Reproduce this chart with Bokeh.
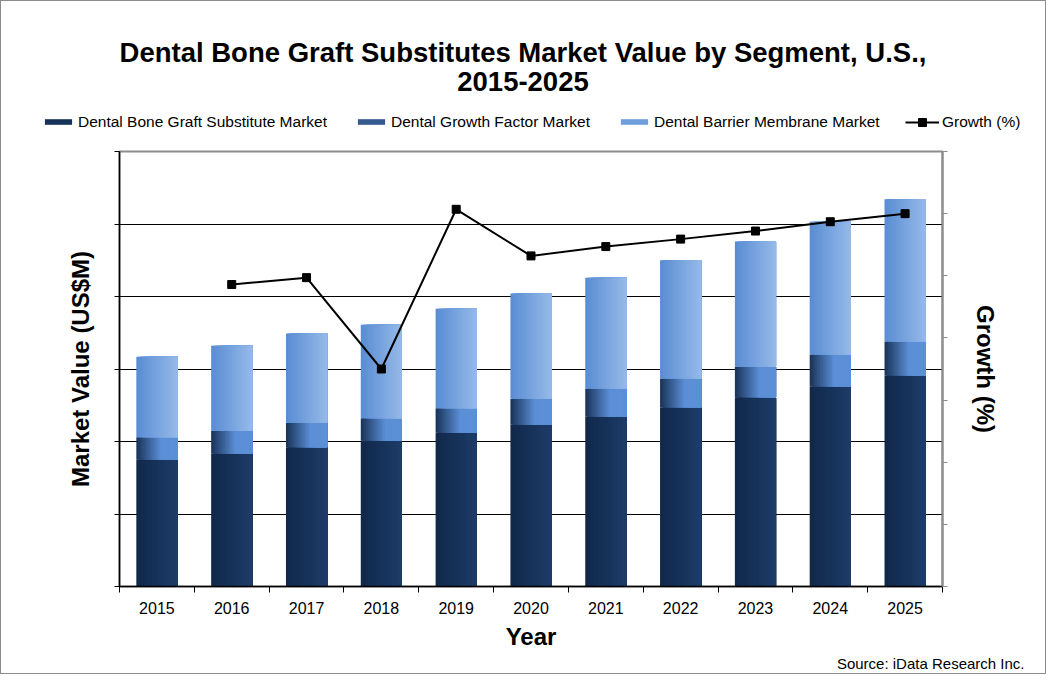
import numpy as np
from bokeh.plotting import figure
from bokeh.models import (Range1d, LinearAxis, FixedTicker, Legend, LegendItem, Title, Label,
                          CustomJSTickFormatter)
from bokeh.embed import file_html
from bokeh.resources import INLINE

# ---------------- data ----------------
years = ["2015", "2016", "2017", "2018", "2019", "2020", "2021", "2022", "2023", "2024", "2025"]
bone_graft = [1.75, 1.83, 1.92, 2.01, 2.12, 2.23, 2.34, 2.47, 2.61, 2.76, 2.91]
growth_factor = [0.31, 0.32, 0.34, 0.31, 0.34, 0.36, 0.39, 0.40, 0.42, 0.44, 0.47]
barrier_membrane = [1.11, 1.17, 1.23, 1.29, 1.37, 1.45, 1.53, 1.63, 1.73, 1.83, 1.96]
growth_years = ["2016", "2017", "2018", "2019", "2020", "2021", "2022", "2023", "2024", "2025"]
growth_pct = [4.86, 4.97, 3.50, 6.07, 5.32, 5.47, 5.59, 5.72, 5.87, 6.00]
left_ticks = [0, 1, 2, 3, 4, 5, 6]
right_ticks = [0, 1, 2, 3, 4, 5, 6, 7]

series_names = ["Dental Bone Graft Substitute Market", "Dental Growth Factor Market",
                "Dental Barrier Membrane Market", "Growth (%)"]
title_lines = ["Dental Bone Graft Substitutes Market Value by Segment, U.S.,", "2015-2025"]
source_text = "Source: iData Research Inc."

FONT = "Liberation Sans"
N_SLICES = 24
BAR_W = 0.55
W = 1046
TOP_H = 150
MAIN_H = 524
EDGE = "#8c8c8c"

seg_colors = [("#11284a", "#1d3c68", 1.0), ("#1b365c", "#5b8fd6", 0.6), ("#5a8dd4", "#95b9e8", 1.0)]
legend_swatch = ["#17325a", "#34598f", "#6e9edd"]


def hx(c):
    c = c.lstrip("#")
    return np.array([int(c[i:i + 2], 16) for i in (0, 2, 4)], dtype=float)


def mix(c1, c2, t):
    a, b = hx(c1), hx(c2)
    r = a + (b - a) * t
    return "#%02x%02x%02x" % tuple(int(round(v)) for v in r)


centers = np.arange(len(years)) + 0.5
bone = np.array(bone_graft)
gf_top = bone + np.array(growth_factor)
tot = gf_top + np.array(barrier_membrane)
stack = [(np.zeros(len(years)), bone), (bone, gf_top), (gf_top, tot)]
gx = [years.index(y) + 0.5 for y in growth_years]

# ---------------- header figure: title + legend ----------------
# (its y range lies below all the data, so the legend's renderers draw nothing here)
top = figure(width=W, height=TOP_H, x_range=Range1d(0, len(years)), y_range=Range1d(-2, -1),
             output_backend="svg", toolbar_location=None, title=None,
             x_axis_location=None, y_axis_location=None,
             min_border_left=0, min_border_right=0, min_border_top=0, min_border_bottom=0)
top.grid.visible = False
top.outline_line_color = None
top.background_fill_color = None
top.border_fill_color = None
top.styles = {"background-color": "white",
              "box-shadow": f"inset 1px 1px 0 0 {EDGE}, inset -1px 0 0 0 {EDGE}"}

for txt, yb in zip(title_lines, [TOP_H - 52.3, TOP_H - 81.3]):
    top.add_layout(Label(x=522.5, y=yb, x_units="screen", y_units="screen", text=txt,
                         text_align="center", text_baseline="alphabetic", text_font=FONT,
                         text_font_size="27.5px", text_font_style="bold", text_color="black"))

bar_items = []
for name, col, (bottoms, tops) in zip(series_names[:3], legend_swatch, stack):
    r = top.quad(left=centers - BAR_W / 2, right=centers + BAR_W / 2, bottom=bottoms, top=tops,
                 fill_color=col, line_color=None)
    bar_items.append(LegendItem(label=name, renderers=[r]))
lr = top.line(gx, growth_pct, line_color="black", line_width=2)
sr = top.scatter(gx, growth_pct, marker="square", size=8, fill_color="black", line_color="black")


def style_legend(lg):
    lg.border_line_color = None
    lg.background_fill_alpha = 0
    lg.padding = 0
    lg.margin = 0
    lg.spacing = 27
    lg.glyph_width = 34
    lg.label_standoff = 3
    lg.label_text_font = FONT
    lg.label_text_font_size = "15.5px"
    lg.label_text_color = "black"


leg_a = Legend(items=bar_items, orientation="horizontal", location=(41, 19.4))
style_legend(leg_a)
leg_a.glyph_height = 7
top.add_layout(leg_a, "center")

leg_b = Legend(items=[LegendItem(label=series_names[3], renderers=[lr, sr])],
               orientation="horizontal", location=(905, 18))
style_legend(leg_b)
leg_b.glyph_height = 20
top.add_layout(leg_b, "center")

# ---------------- main figure ----------------
p = figure(width=W, height=MAIN_H, x_range=Range1d(0, len(years)), y_range=Range1d(0, 6),
           output_backend="svg", toolbar_location=None, title=None,
           min_border_left=119, min_border_right=104, min_border_top=1, min_border_bottom=88)
p.extra_y_ranges = {"growth": Range1d(0, 7)}
p.background_fill_color = "white"
p.border_fill_color = None
p.styles = {"background-color": "white",
            "box-shadow": f"inset 1px -1px 0 0 {EDGE}, inset -1px 0 0 0 {EDGE}"}
p.outline_line_color = EDGE
p.outline_line_width = 2

for (bottoms, tops), (c_left, c_right, span) in zip(stack, seg_colors):
    for k in range(N_SLICES):
        t = min(1.0, (k / (N_SLICES - 1)) / span)
        col = mix(c_left, c_right, t)
        left = centers - BAR_W / 2 + k * BAR_W / N_SLICES
        right = centers + BAR_W / 2
        p.quad(left=left, right=right, bottom=bottoms, top=tops, fill_color=col, line_color=None)

p.line(gx, growth_pct, y_range_name="growth", line_color="black", line_width=2)
p.scatter(gx, growth_pct, y_range_name="growth", marker="square", size=8,
          fill_color="black", line_color="black")

empty = CustomJSTickFormatter(code="return ''")

yax = p.yaxis[0]
yax.ticker = FixedTicker(ticks=left_ticks)
yax.formatter = empty
yax.major_tick_out = 5
yax.major_tick_in = 0
yax.major_tick_line_color = "black"
yax.minor_tick_line_color = None
yax.axis_line_color = "black"
yax.axis_line_width = 1.5
yax.axis_label = "Market Value (US$M)"
yax.axis_label_text_font = FONT
yax.axis_label_text_font_size = "24px"
yax.axis_label_text_font_style = "bold"
yax.axis_label_text_color = "black"
yax.axis_label_standoff = 21

xax = p.xaxis[0]
xax.ticker = FixedTicker(ticks=list(centers), minor_ticks=list(range(len(years) + 1)))
xax.formatter = CustomJSTickFormatter(args=dict(labels=years),
                                      code="const i = Math.floor(tick); return labels[i] ?? '';")
xax.major_tick_line_color = None
xax.major_tick_out = 0
xax.major_tick_in = 0
xax.minor_tick_line_color = "black"
xax.minor_tick_out = 6
xax.minor_tick_in = 0
xax.axis_line_color = "black"
xax.axis_line_width = 1.5
xax.major_label_text_font = FONT
xax.major_label_text_font_size = "16px"
xax.major_label_text_color = "black"
xax.major_label_standoff = 9
xax.axis_label = "Year"
xax.axis_label_text_font = FONT
xax.axis_label_text_font_size = "24px"
xax.axis_label_text_font_style = "bold"
xax.axis_label_text_color = "black"
xax.axis_label_standoff = 6

rax = LinearAxis(y_range_name="growth", ticker=FixedTicker(ticks=right_ticks), formatter=empty)
rax.major_tick_out = 5
rax.major_tick_in = 0
rax.major_tick_line_color = EDGE
rax.minor_tick_line_color = None
rax.axis_line_color = EDGE
rax.axis_line_width = 2
rax.axis_label = "Growth (%)"
rax.axis_label_text_font = FONT
rax.axis_label_text_font_size = "24px"
rax.axis_label_text_font_style = "bold"
rax.axis_label_text_color = "black"
rax.axis_label_standoff = 24
p.add_layout(rax, "right")

p.xgrid.visible = False
p.ygrid.ticker = FixedTicker(ticks=left_ticks[1:-1])
p.ygrid.grid_line_color = "black"
p.ygrid.grid_line_width = 1

src = Title(text=source_text, align="right", offset=-82, standoff=1,
            text_font=FONT, text_font_size="15px", text_font_style="normal", text_color="black")
p.add_layout(src, "below")

open("out.html", "w").write(file_html([top, p], INLINE))
